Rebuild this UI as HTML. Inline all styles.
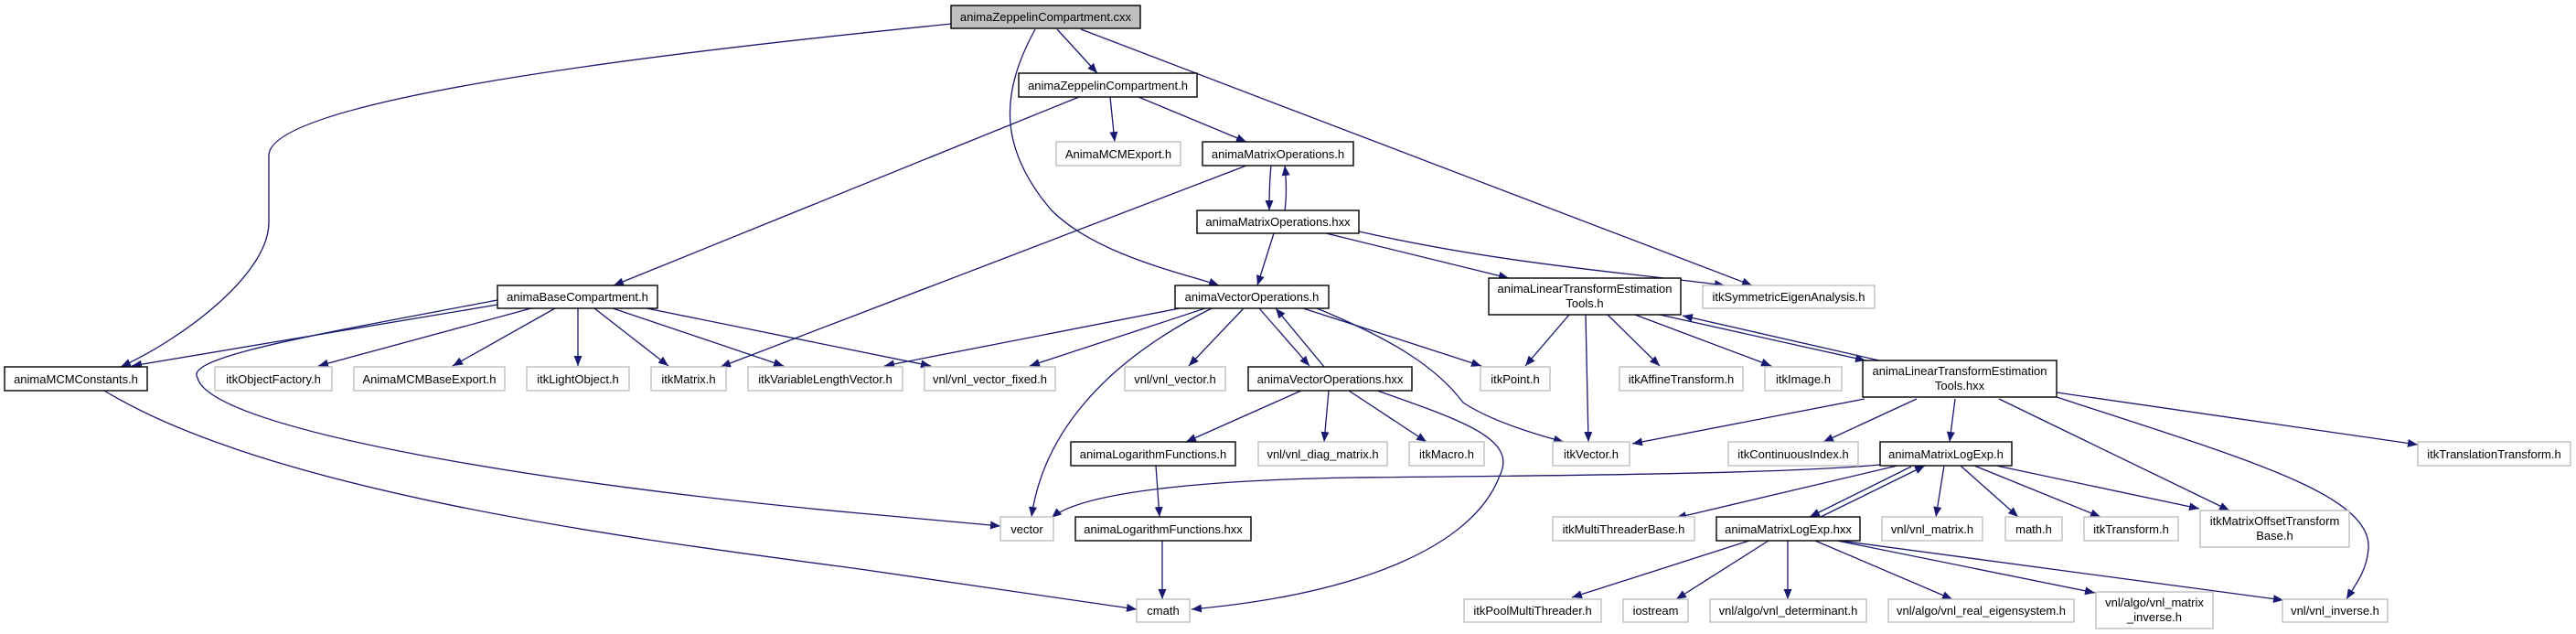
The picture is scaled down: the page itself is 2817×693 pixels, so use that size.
<!DOCTYPE html>
<html><head><meta charset="utf-8"><style>
html,body{margin:0;padding:0;background:#fff;}
svg{display:block;}
text{font-family:"Liberation Sans",sans-serif;font-size:13px;fill:#000;text-anchor:middle;}
.e{fill:none;stroke:#191970;stroke-width:1.3;marker-end:url(#a);}
.n{fill:#fff;stroke:#000;stroke-width:1.4;}
.x{fill:#fff;stroke:#bfbfbf;stroke-width:1.4;}
</style></head><body>
<svg width="2817" height="693" viewBox="0 0 2817 693" xmlns="http://www.w3.org/2000/svg">
<defs><marker id="a" markerUnits="userSpaceOnUse" markerWidth="12" markerHeight="9" refX="11" refY="4.5" orient="auto"><path d="M0,0 L11,4.5 L0,9 z" fill="#191970"/></marker></defs>
<path class="e" d="M1156,32 L1200,80"/>
<path class="e" d="M1041,26 C700,60 294,110 294,170 L294,243 C294,300 200,370 132,401"/>
<path class="e" d="M1132,32 C1095,100 1090,160 1150,230 C1200,280 1300,300 1333,312"/>
<path class="e" d="M1182,32 L1916,312"/>
<path class="e" d="M1214,106 L1219,155"/>
<path class="e" d="M1245,106 L1363,155"/>
<path class="e" d="M1180,106 L671,312"/>
<path class="e" d="M1390,181 C1388,200 1388,215 1388,230"/>
<path class="e" d="M1405,230 C1407,215 1407,200 1405,181"/>
<path class="e" d="M1363,181 L788,401"/>
<path class="e" d="M1393,255 L1375,312"/>
<path class="e" d="M1450,255 L1650,304"/>
<path class="e" d="M1486,253 C1650,290 1800,300 1886,312"/>
<path class="e" d="M544,333 L144,400"/>
<path class="e" d="M544,328 C350,365 200,390 216,413 C230,470 600,530 940,561 L1094,575"/>
<path class="e" d="M581,337 L348,400"/>
<path class="e" d="M607,337 L495,400"/>
<path class="e" d="M632,337 L632,400"/>
<path class="e" d="M650,337 L731,400"/>
<path class="e" d="M670,337 L857,400"/>
<path class="e" d="M707,337 L1018,400"/>
<path class="e" d="M114,427 C300,540 700,590 940,622 L1243,666"/>
<path class="e" d="M1290,337 L967,400"/>
<path class="e" d="M1318,337 L1126,400"/>
<path class="e" d="M1325,337 C1200,400 1140,480 1128,565"/>
<path class="e" d="M1360,337 L1300,400"/>
<path class="e" d="M1377,337 L1432,400"/>
<path class="e" d="M1448,401 L1395,337"/>
<path class="e" d="M1425,337 L1620,400"/>
<path class="e" d="M1440,337 C1520,370 1570,400 1600,440 C1630,460 1680,475 1710,483"/>
<path class="e" d="M1423,427 L1297,483"/>
<path class="e" d="M1453,427 L1448,483"/>
<path class="e" d="M1475,427 L1560,483"/>
<path class="e" d="M1506,427 C1600,460 1660,480 1640,520 C1610,600 1480,650 1303,666"/>
<path class="e" d="M1264,509 L1268,565"/>
<path class="e" d="M1271,591 L1271,655"/>
<path class="e" d="M1716,344 L1668,400"/>
<path class="e" d="M1734,344 L1737,483"/>
<path class="e" d="M1758,344 L1815,400"/>
<path class="e" d="M1788,344 L1937,400"/>
<path class="e" d="M1815,344 L2040,394"/>
<path class="e" d="M2055,394 L1840,345"/>
<path class="e" d="M2039,436 L1785,485"/>
<path class="e" d="M2096,436 L1994,483"/>
<path class="e" d="M2138,436 L2132,483"/>
<path class="e" d="M2186,436 L2438,558"/>
<path class="e" d="M2249,434 C2450,500 2595,540 2590,600 C2588,625 2575,640 2566,655"/>
<path class="e" d="M2249,429 L2644,486"/>
<path class="e" d="M2056,508 C1950,518 1700,520 1480,522 C1300,525 1180,540 1150,566"/>
<path class="e" d="M2075,509 L1833,566"/>
<path class="e" d="M2090,510 L1979,565"/>
<path class="e" d="M1991,565 L2105,509"/>
<path class="e" d="M2126,509 L2117,565"/>
<path class="e" d="M2144,509 L2207,565"/>
<path class="e" d="M2159,509 L2297,565"/>
<path class="e" d="M2183,509 L2405,556"/>
<path class="e" d="M1913,591 L1719,653"/>
<path class="e" d="M1934,591 L1833,655"/>
<path class="e" d="M1955,591 L1955,655"/>
<path class="e" d="M1985,591 L2135,655"/>
<path class="e" d="M2009,591 L2291,648"/>
<path class="e" d="M2012,591 L2497,656"/>
<rect x="1040" y="6" width="207" height="25" fill="#bfbfbf" stroke="#000" stroke-width="1.4"/><text x="1143.5" y="23">animaZeppelinCompartment.cxx</text>
<rect class="n" x="1114" y="80" width="195" height="26"/><text x="1211.5" y="98">animaZeppelinCompartment.h</text>
<rect class="x" x="1155" y="155" width="136" height="26"/><text x="1223" y="173">AnimaMCMExport.h</text>
<rect class="n" x="1315" y="155" width="165" height="26"/><text x="1397.5" y="173">animaMatrixOperations.h</text>
<rect class="n" x="1309" y="230" width="177" height="25"/><text x="1397.5" y="247">animaMatrixOperations.hxx</text>
<rect class="n" x="544" y="312" width="175" height="25"/><text x="631.5" y="329">animaBaseCompartment.h</text>
<rect class="n" x="1285" y="312" width="168" height="25"/><text x="1369" y="329">animaVectorOperations.h</text>
<rect class="n" x="1628" y="304" width="210" height="40"/><text x="1733" y="320">animaLinearTransformEstimation</text><text x="1733" y="336">Tools.h</text>
<rect class="x" x="1862" y="312" width="188" height="25"/><text x="1956" y="329">itkSymmetricEigenAnalysis.h</text>
<rect class="n" x="5" y="401" width="156" height="26"/><text x="83" y="419">animaMCMConstants.h</text>
<rect class="x" x="235" y="401" width="128" height="26"/><text x="299" y="419">itkObjectFactory.h</text>
<rect class="x" x="387" y="401" width="165" height="26"/><text x="469.5" y="419">AnimaMCMBaseExport.h</text>
<rect class="x" x="576" y="401" width="112" height="26"/><text x="632" y="419">itkLightObject.h</text>
<rect class="x" x="712" y="401" width="82" height="26"/><text x="753" y="419">itkMatrix.h</text>
<rect class="x" x="818" y="401" width="169" height="26"/><text x="902.5" y="419">itkVariableLengthVector.h</text>
<rect class="x" x="1011" y="401" width="143" height="26"/><text x="1082.5" y="419">vnl/vnl_vector_fixed.h</text>
<rect class="x" x="1230" y="401" width="110" height="26"/><text x="1285" y="419">vnl/vnl_vector.h</text>
<rect class="n" x="1365" y="401" width="179" height="26"/><text x="1454.5" y="419">animaVectorOperations.hxx</text>
<rect class="x" x="1619" y="401" width="76" height="26"/><text x="1657" y="419">itkPoint.h</text>
<rect class="x" x="1771" y="401" width="135" height="26"/><text x="1838.5" y="419">itkAffineTransform.h</text>
<rect class="x" x="1930" y="401" width="84" height="26"/><text x="1972" y="419">itkImage.h</text>
<rect class="n" x="2037" y="394" width="212" height="40"/><text x="2143" y="410">animaLinearTransformEstimation</text><text x="2143" y="426">Tools.hxx</text>
<rect class="n" x="1171" y="483" width="180" height="26"/><text x="1261" y="501">animaLogarithmFunctions.h</text>
<rect class="x" x="1376" y="483" width="141" height="26"/><text x="1446.5" y="501">vnl/vnl_diag_matrix.h</text>
<rect class="x" x="1541" y="483" width="82" height="26"/><text x="1582" y="501">itkMacro.h</text>
<rect class="x" x="1698" y="483" width="84" height="26"/><text x="1740" y="501">itkVector.h</text>
<rect class="x" x="1890" y="483" width="142" height="26"/><text x="1961" y="501">itkContinuousIndex.h</text>
<rect class="n" x="2056" y="483" width="144" height="26"/><text x="2128" y="501">animaMatrixLogExp.h</text>
<rect class="x" x="2644" y="483" width="167" height="26"/><text x="2727.5" y="501">itkTranslationTransform.h</text>
<rect class="x" x="1094" y="565" width="58" height="26"/><text x="1123" y="583">vector</text>
<rect class="n" x="1176" y="565" width="192" height="26"/><text x="1272" y="583">animaLogarithmFunctions.hxx</text>
<rect class="x" x="1698" y="565" width="155" height="26"/><text x="1775.5" y="583">itkMultiThreaderBase.h</text>
<rect class="n" x="1877" y="565" width="157" height="26"/><text x="1955.5" y="583">animaMatrixLogExp.hxx</text>
<rect class="x" x="2058" y="565" width="110" height="26"/><text x="2113" y="583">vnl/vnl_matrix.h</text>
<rect class="x" x="2193" y="565" width="62" height="26"/><text x="2224" y="583">math.h</text>
<rect class="x" x="2279" y="565" width="103" height="26"/><text x="2330.5" y="583">itkTransform.h</text>
<rect class="x" x="2406" y="558" width="163" height="40"/><text x="2487.5" y="574">itkMatrixOffsetTransform</text><text x="2487.5" y="590">Base.h</text>
<rect class="x" x="1243" y="655" width="58" height="25"/><text x="1272" y="672">cmath</text>
<rect class="x" x="1601" y="655" width="150" height="25"/><text x="1676" y="672">itkPoolMultiThreader.h</text>
<rect class="x" x="1775" y="655" width="71" height="25"/><text x="1810.5" y="672">iostream</text>
<rect class="x" x="1870" y="655" width="171" height="25"/><text x="1955.5" y="672">vnl/algo/vnl_determinant.h</text>
<rect class="x" x="2065" y="655" width="203" height="25"/><text x="2166.5" y="672">vnl/algo/vnl_real_eigensystem.h</text>
<rect class="x" x="2292" y="647" width="128" height="40"/><text x="2356" y="663">vnl/algo/vnl_matrix</text><text x="2356" y="679">_inverse.h</text>
<rect class="x" x="2496" y="655" width="115" height="25"/><text x="2553.5" y="672">vnl/vnl_inverse.h</text>
</svg>
</body></html>
